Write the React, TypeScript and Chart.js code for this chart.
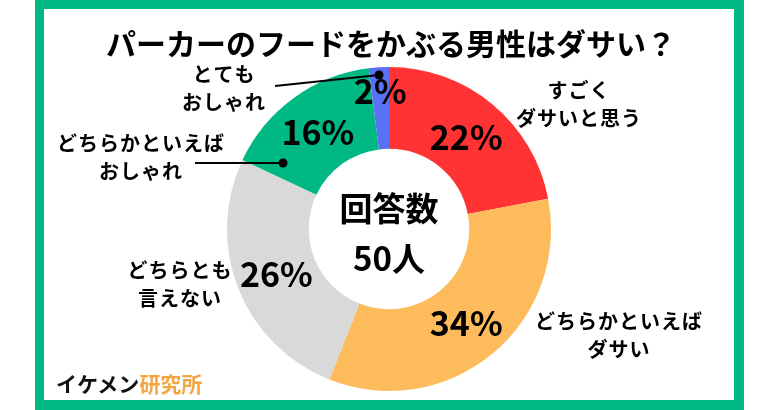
import React, { useEffect, useRef } from "react";
import { Chart, registerables } from "chart.js";

Chart.register(...registerables);

const TITLE = "パーカーのフードをかぶる男性はダサい？";
const categories = [
  "すごく\nダサいと思う",
  "どちらかといえば\nダサい",
  "どちらとも\n言えない",
  "どちらかといえば\nおしゃれ",
  "とても\nおしゃれ",
];
const values = [22, 34, 26, 16, 2];
const colors = ["#FF3333", "#FDBB5B", "#D9D9D9", "#00B884", "#5A70F5"];
const centerLines = ["回答数", "50人"];
const brandBlack = "イケメン";
const brandOrange = "研究所";

// label placement (style only)
const labelPos = [
  { x: 579, y: 90 },
  { x: 619, y: 321 },
  { x: 180, y: 270 },
  { x: 141, y: 143 },
  { x: 224, y: 74 },
];
const pctRadiusFactor = [0.5, 0.5, 0.5, 0.5, 0.72];

const FONT = '"Noto Sans CJK JP", "Noto Sans", sans-serif';
const GREEN = "#00B884";

export default function App() {
  const ref = useRef<HTMLCanvasElement>(null);
  useEffect(() => {
    document.body.style.margin = "0";
    const textPlugin = {
      id: "textPlugin",
      afterDraw(chart: any) {
        const ctx = chart.ctx as CanvasRenderingContext2D;
        const meta = chart.getDatasetMeta(0);
        ctx.save();
        // leader lines
        ctx.strokeStyle = "#000";
        ctx.fillStyle = "#000";
        ctx.lineWidth = 2;
        const lines = [
          { x1: 275, y1: 86, x2: 379, y2: 75 },
          { x1: 195, y1: 163, x2: 283, y2: 163 },
        ];
        lines.forEach((l) => {
          ctx.beginPath();
          ctx.moveTo(l.x1, l.y1);
          ctx.lineTo(l.x2, l.y2);
          ctx.stroke();
          ctx.beginPath();
          ctx.arc(l.x2, l.y2, 4.5, 0, Math.PI * 2);
          ctx.fill();
        });
        // percentages
        ctx.textAlign = "center";
        ctx.textBaseline = "middle";
        ctx.font = `700 34px ${FONT}`;
        meta.data.forEach((arc: any, i: number) => {
          const p = arc.getProps(["x", "y", "startAngle", "endAngle", "innerRadius", "outerRadius"], true);
          const mid = (p.startAngle + p.endAngle) / 2;
          const r = p.innerRadius + (p.outerRadius - p.innerRadius) * pctRadiusFactor[i];
          ctx.fillText(`${values[i]}%`, p.x + Math.cos(mid) * r, p.y + Math.sin(mid) * r + 1);
        });
        // center text
        const c = meta.data[0];
        ctx.font = `700 33px ${FONT}`;
        ctx.fillText(centerLines[0], c.x, c.y - 21);
        ctx.fillText(centerLines[1], c.x, c.y + 29);
        // category labels
        ctx.font = `700 20px ${FONT}`;
        (ctx as any).letterSpacing = "1px";
        categories.forEach((cat, i) => {
          cat.split("\n").forEach((ln, j) => {
            ctx.fillText(ln, labelPos[i].x, labelPos[i].y + j * 28);
          });
        });
        ctx.restore();
      },
    };
    const chart = new Chart(ref.current!, {
      type: "doughnut",
      data: {
        labels: categories.map((c) => c.replace("\n", "")),
        datasets: [
          {
            data: values,
            backgroundColor: colors,
            borderWidth: 0,
          },
        ],
      },
      options: {
        responsive: false,
        animation: false,
        cutout: "49.5%",
        layout: { padding: { top: 67, bottom: 19, left: 227, right: 229 } },
        plugins: { legend: { display: false }, tooltip: { enabled: false } },
      },
      plugins: [textPlugin],
    });
    return () => chart.destroy();
  }, []);

  return (
    <div style={{ position: "fixed", left: 0, top: 0, width: 780, height: 410, background: "#fff", overflow: "hidden" }}>
      <canvas ref={ref} width={780} height={410} style={{ position: "absolute", left: 0, top: 0 }} />
      <div
        style={{
          position: "absolute",
          left: 35,
          top: 0,
          width: 709,
          height: 410,
          boxSizing: "border-box",
          borderStyle: "solid",
          borderColor: GREEN,
          borderWidth: "9px 10px 10px 9px",
          pointerEvents: "none",
        }}
      />
      <div
        style={{
          position: "absolute",
          left: 0,
          width: 782,
          top: 20,
          textAlign: "center",
          fontFamily: FONT,
          fontWeight: 700,
          fontSize: 30,
          lineHeight: "44px",
          color: "#000",
          whiteSpace: "nowrap",
        }}
      >
        {TITLE}
      </div>
      <div
        style={{
          position: "absolute",
          left: 56,
          top: 368,
          fontFamily: FONT,
          fontWeight: 700,
          fontSize: 21,
          lineHeight: "30px",
          whiteSpace: "nowrap",
        }}
      >
        <span style={{ color: "#111" }}>{brandBlack}</span>
        <span style={{ color: "#F2A541" }}>{brandOrange}</span>
      </div>
    </div>
  );
}
